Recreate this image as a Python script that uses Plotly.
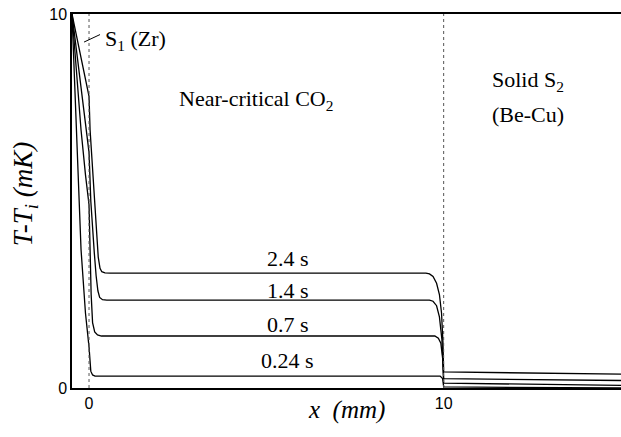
import plotly.graph_objects as go

# ---- data ----
times = ["2.4 s", "1.4 s", "0.7 s", "0.24 s"]

x_24 = [-0.48, -0.3, -0.15, 0.0, 0.03, 0.1, 0.18, 0.26, 0.31, 0.36, 0.45, 0.6,
        9.5, 9.6, 9.7, 9.8, 9.88, 9.94, 9.98, 10.0, 15.0]
y_24 = [10, 9.2, 8.5, 7.8, 6.9, 5.8, 4.6, 3.5, 3.2, 3.11, 3.08, 3.07,
        3.07, 3.05, 2.98, 2.8, 2.5, 2.0, 1.2, 0.43, 0.37]

x_14 = [-0.48, -0.3, -0.14, 0.0, 0.05, 0.1, 0.15, 0.2, 0.25, 0.3, 0.38, 0.5,
        9.6, 9.7, 9.8, 9.88, 9.95, 10.0, 15.0]
y_14 = [10, 8.6, 7.3, 6.3, 5.0, 4.2, 3.6, 3.0, 2.6, 2.42, 2.36, 2.35,
        2.35, 2.32, 2.2, 1.9, 1.3, 0.25, 0.2]

x_07 = [-0.48, -0.35, -0.225, -0.1, 0.0, 0.03, 0.06, 0.1, 0.16, 0.24, 0.35,
        9.75, 9.85, 9.92, 9.97, 10.0, 15.0]
y_07 = [10, 8.4, 6.9, 5.7, 4.9, 3.7, 2.5, 1.75, 1.5, 1.42, 1.39,
        1.39, 1.33, 1.2, 0.8, 0.13, 0.07]

x_024 = [-0.48, -0.365, -0.225, -0.1, 0.0, 0.05, 0.1, 0.17, 9.9, 9.97, 10.0, 15.0]
y_024 = [10, 6.9, 3.7, 2.0, 1.1, 0.45, 0.35, 0.32, 0.32, 0.25, 0.03, 0.0]

series_x = [x_24, x_14, x_07, x_024]
series_y = [y_24, y_14, y_07, y_024]

# label positions (data coords) for time labels
label_x = [5.6, 5.6, 5.6, 5.6]
label_y = [3.47, 2.62, 1.7, 0.73]

interfaces = [0, 10]
x_ticks = [0, 10]
y_ticks = [0, 10]

SERIF = "Liberation Serif"
SANS = "Liberation Sans"

fig = go.Figure()

for xs, ys, name in zip(series_x, series_y, times):
    fig.add_trace(go.Scatter(x=xs, y=ys, mode="lines", name=name,
                             line=dict(color="black", width=1.3),
                             showlegend=False, hoverinfo="skip"))

for xi in interfaces:
    fig.add_trace(go.Scatter(x=[xi, xi], y=[0, 10], mode="lines",
                             line=dict(color="#555555", width=1, dash="3px,3px"),
                             showlegend=False, hoverinfo="skip"))

for t, lx, ly in zip(times, label_x, label_y):
    fig.add_annotation(x=lx, y=ly, text=t, showarrow=False,
                       font=dict(family=SERIF, size=22, color="black"),
                       xanchor="center", yanchor="middle")

# region labels
fig.add_annotation(x=4.7, y=7.7, text="Near-critical CO<sub>2</sub>", showarrow=False,
                   font=dict(family=SERIF, size=22, color="black"))
fig.add_annotation(x=11.3, y=8.2, text="Solid S<sub>2</sub>", showarrow=False,
                   xanchor="left", font=dict(family=SERIF, size=22, color="black"))
fig.add_annotation(x=11.3, y=7.3, text="(Be-Cu)", showarrow=False,
                   xanchor="left", font=dict(family=SERIF, size=22, color="black"))
fig.add_annotation(x=0.4, y=9.3, text="S<sub>1</sub> (Zr)", showarrow=False,
                   xanchor="left", font=dict(family=SERIF, size=22, color="black"))
# leader line for S1
fig.add_shape(type="line", x0=-0.14, y0=9.25, x1=0.31, y1=9.45,
              line=dict(color="black", width=1))

# axis titles
fig.add_annotation(xref="paper", yref="paper", x=-0.086, y=0.52,
                   text="<i>T-T<sub>i</sub> (mK)</i>", textangle=-90, showarrow=False,
                   font=dict(family=SERIF, size=27, color="black"),
                   xanchor="center", yanchor="middle")
fig.add_annotation(xref="paper", yref="paper", x=0.5, y=-0.06,
                   text="<i>x\u00a0\u00a0(mm)</i>", showarrow=False,
                   font=dict(family=SERIF, size=25, color="black"),
                   xanchor="center", yanchor="middle")

fig.update_layout(
    width=621, height=437,
    margin=dict(l=72, r=0, t=14, b=49),
    paper_bgcolor="white", plot_bgcolor="white",
    xaxis=dict(range=[-0.48, 15.0], showgrid=False, zeroline=False,
               showline=True, linecolor="black", linewidth=1.5, mirror=True,
               tickvals=x_ticks, ticks="", ticklen=0,
               tickfont=dict(family=SANS, size=16, color="black")),
    yaxis=dict(range=[0, 10], showgrid=False, zeroline=False,
               showline=True, linecolor="black", linewidth=1.5,
               tickvals=y_ticks, ticks="", ticklen=0,
               tickfont=dict(family=SANS, size=16, color="black")),
)

fig.write_html("out.html", config={"displayModeBar": False},
               post_script="document.body.style.margin='0';document.body.style.overflow='hidden';")
